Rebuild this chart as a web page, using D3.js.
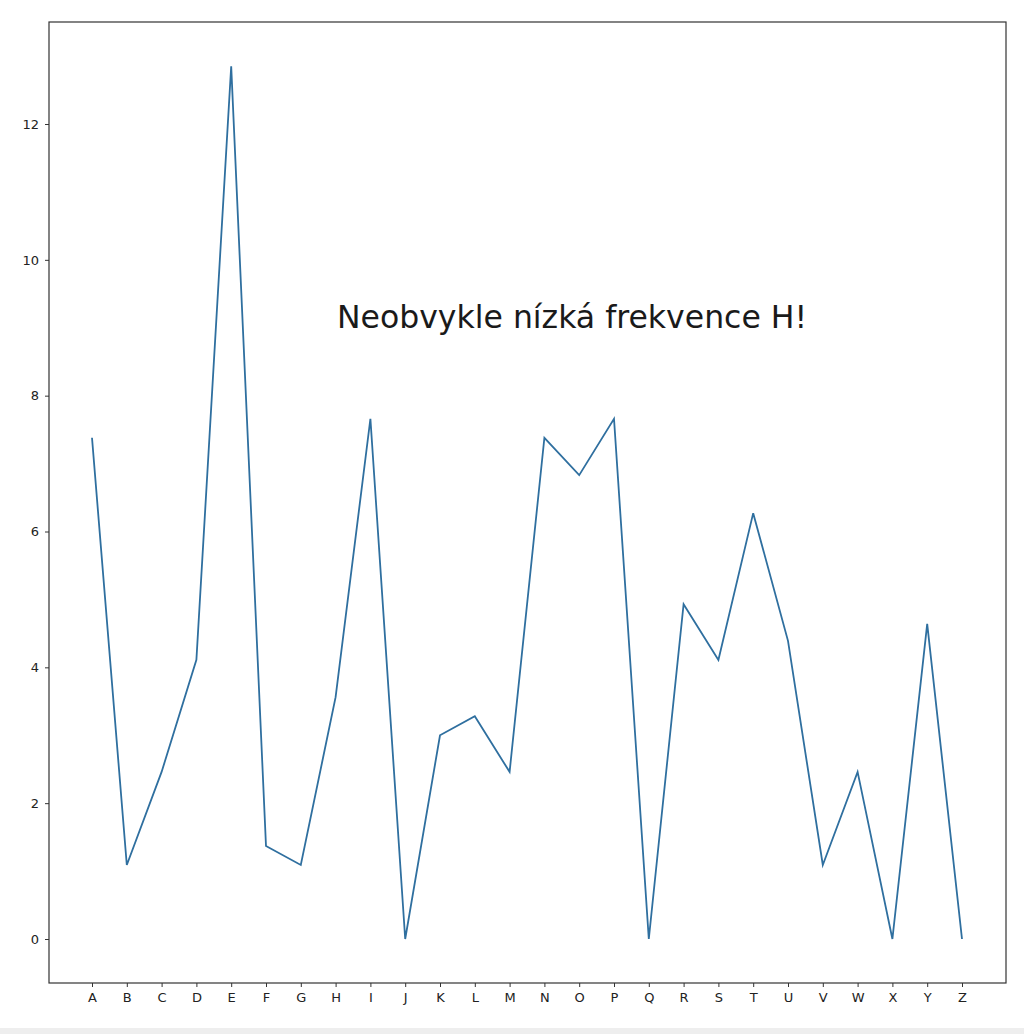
<!DOCTYPE html>
<html><head><meta charset="utf-8">
<script src="https://cdn.jsdelivr.net/npm/d3@7"></script>
<style>body{margin:0;background:#fff}svg{display:block}</style>
</head><body>
<script>
const letters = ["A","B","C","D","E","F","G","H","I","J","K","L","M","N","O","P","Q","R","S","T","U","V","W","X","Y","Z"];
const freq = [7.38,1.09,2.46,4.11,12.85,1.37,1.09,3.56,7.66,0,3.0,3.28,2.46,7.38,6.83,7.66,0,4.93,4.11,6.27,4.39,1.09,2.46,0,4.64,0];
const yTicks = [0,2,4,6,8,10,12];
const annotation = "Neobvykle nízká frekvence H!";

const W = 1024, H = 1034;
const m = {left:49, right:1006, top:22, bottom:983};
const svg = d3.select("body").append("svg").attr("width",W).attr("height",H);

const x = d3.scalePoint().domain(letters).range([92,962]);
const y = d3.scaleLinear().domain([0,12]).range([939,124]);

svg.append("path").datum(freq)
  .attr("fill","none").attr("stroke","#2f6f9f").attr("stroke-width",1.8)
  .attr("stroke-linejoin","miter")
  .attr("d", d3.line().x((d,i)=>x(letters[i])).y(d=>y(d)));

const gx = svg.append("g").attr("transform",`translate(0,${m.bottom})`)
  .call(d3.axisBottom(x).tickSize(4).tickPadding(6));
gx.select(".domain").remove();
const gy = svg.append("g").attr("transform",`translate(${m.left},0)`)
  .call(d3.axisLeft(y).tickValues(yTicks).tickSize(4).tickPadding(6));
gy.select(".domain").remove();
svg.selectAll(".tick text").attr("font-family","DejaVu Sans").attr("font-size",13).attr("fill","#222");
svg.selectAll(".tick line").attr("stroke","#333");

svg.append("rect").attr("x",m.left).attr("y",m.top)
  .attr("width",m.right-m.left).attr("height",m.bottom-m.top)
  .attr("fill","none").attr("stroke","#333").attr("stroke-width",1.2);

svg.append("text").attr("x",337).attr("y",328)
  .attr("font-family","DejaVu Sans").attr("font-size",31.5).attr("fill","#1a1a1a")
  .text(annotation);

svg.append("rect").attr("x",0).attr("y",1028).attr("width",W).attr("height",6).attr("fill","#eeeeee");
</script>
</body></html>
